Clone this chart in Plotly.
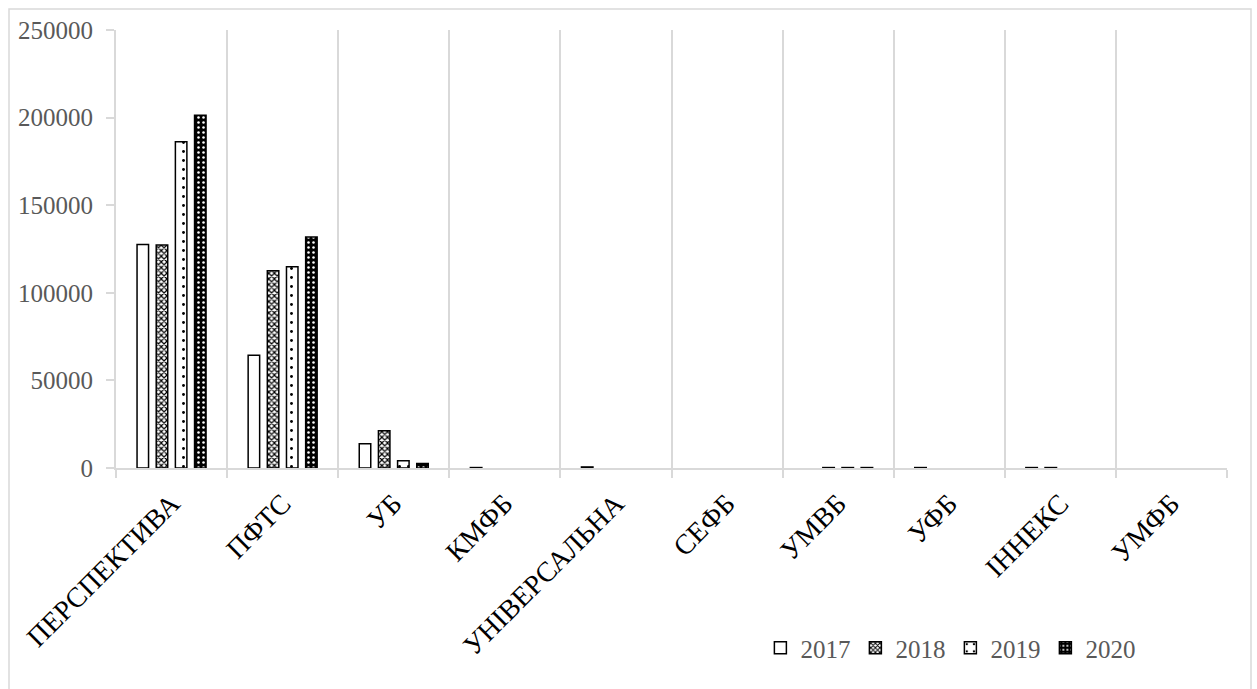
import plotly.graph_objects as go

categories = ["ПЕРСПЕКТИВА", "ПФТС", "УБ", "КМФБ", "УНІВЕРСАЛЬНА",
              "СЕФБ", "УМВБ", "УФБ", "ІННЕКС", "УМФБ"]
years = ["2017", "2018", "2019", "2020"]
v2017 = [127500, 64300, 13900, 250, 600, None, None, 250, 250, None]
v2018 = [127300, 112600, 21300, None, None, None, 250, None, 250, None]
v2019 = [186200, 114800, 4200, None, None, None, 250, None, None, None]
v2020 = [201300, 131800, 2600, None, None, None, 250, None, None, None]
y_ticks = [0, 50000, 100000, 150000, 200000, 250000]

FONT = "Liberation Serif"
GRAY = "#595959"
GRID = "#d9d9d9"

patterns = [
    dict(marker_color="white", pattern=None),
    dict(marker_color="white", pattern=dict(shape="x", fgcolor="black", bgcolor="white",
                                            size=4, solidity=0.5, fillmode="replace")),
    dict(marker_color="white", pattern=dict(shape=".", fgcolor="black", bgcolor="white",
                                            size=9, solidity=0.08, fillmode="replace")),
    dict(marker_color="black", pattern=dict(shape=".", fgcolor="white", bgcolor="black",
                                            size=5, solidity=0.2, fillmode="replace")),
]

fig = go.Figure()
for name, vals, p in zip(years, [v2017, v2018, v2019, v2020], patterns):
    marker = dict(color=p["marker_color"], line=dict(color="black", width=1.5))
    if p["pattern"] is not None:
        marker["pattern"] = p["pattern"]
    fig.add_trace(go.Bar(name=name, x=categories, y=vals, marker=marker))

fig.update_layout(
    width=1257, height=689,
    margin=dict(l=116, r=30, t=30, b=221),
    paper_bgcolor="white", plot_bgcolor="white",
    font=dict(family=FONT, size=25, color=GRAY),
    barmode="group", bargap=0.31, bargroupgap=0.4,
    showlegend=True,
    legend=dict(orientation="h", x=0.58, y=-0.411, xanchor="left", yanchor="middle",
                font=dict(family=FONT, size=25, color=GRAY), traceorder="normal",
                itemwidth=30, bgcolor="rgba(0,0,0,0)"),
    shapes=[dict(type="rect", xref="paper", yref="paper",
                 x0=(9 - 116) / 1111, x1=(1251 - 116) / 1111,
                 y0=(468 - 700) / 438, y1=(468 - 9) / 438,
                 line=dict(color=GRID, width=1.5), fillcolor="rgba(0,0,0,0)", layer="below")],
)
fig.update_xaxes(
    type="category", tickson="boundaries", showgrid=True, gridcolor=GRID, gridwidth=1.5,
    showline=True, linecolor=GRID, linewidth=2,
    ticks="outside", ticklen=8, tickcolor=GRID, tickwidth=1.5,
    tickangle=-45, ticklabelstandoff=6,
    tickfont=dict(family=FONT, size=28, color="black"),
)
fig.update_yaxes(
    range=[0, 250000], tickvals=y_ticks, ticktext=[str(t) for t in y_ticks],
    showgrid=False, zeroline=False,
    showline=True, linecolor=GRID, linewidth=2,
    ticks="outside", ticklen=8, tickcolor=GRID, tickwidth=1.5,
    ticklabelstandoff=8,
    tickfont=dict(family=FONT, size=25, color=GRAY),
)

fig.write_html("out.html")
